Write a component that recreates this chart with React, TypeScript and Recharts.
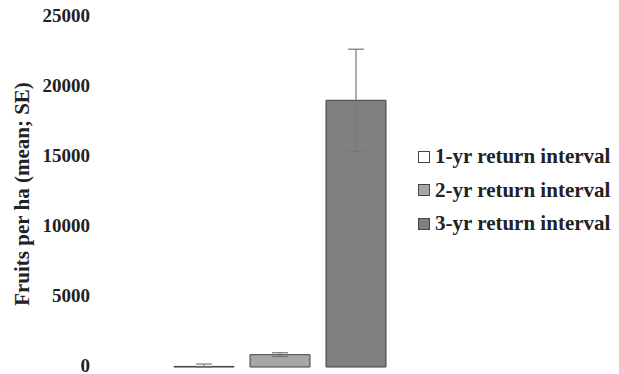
import React from 'react';
import { BarChart, Bar, XAxis, YAxis, ErrorBar } from 'recharts';

const seriesNames = ['1-yr return interval', '2-yr return interval', '3-yr return interval'];
const seriesMeans = [40, 880, 19050];
const seriesErrors = [170, 140, 3650];
const seriesFills = ['#ffffff', '#a6a6a6', '#808080'];
const yTicks = [0, 5000, 10000, 15000, 20000, 25000];

const FONT = '"Liberation Serif", "Times New Roman", serif';

// error whiskers are cut at zero, as in the original figure
const row: Record<string, any> = { group: 'all' };
seriesMeans.forEach((m, i) => {
  row[`s${i}`] = m;
  row[`e${i}`] = [Math.min(seriesErrors[i], m), seriesErrors[i]];
});
const data = [row];

const YLabel = (props: any) => {
  const { viewBox } = props;
  const cx = 22;
  const cy = viewBox.y + viewBox.height / 2 + 2;
  return (
    <text
      x={cx}
      y={cy}
      transform={`rotate(-90, ${cx}, ${cy})`}
      textAnchor="middle"
      dominantBaseline="central"
      fontFamily={FONT}
      fontWeight="bold"
      fontSize={21}
      fill="#222"
    >
      Fruits per ha (mean; SE)
    </text>
  );
};

const YTick = (props: any) => {
  const { x, y, payload } = props;
  return (
    <text
      x={x}
      y={y - 2}
      textAnchor="end"
      dominantBaseline="central"
      fontFamily={FONT}
      fontWeight="bold"
      fontSize={19}
      fill="#222"
    >
      {payload.value}
    </text>
  );
};

const LegendBox = () => (
  <div
    style={{
      position: 'absolute',
      left: 418,
      top: 140,
      width: 201,
      fontFamily: FONT,
      fontWeight: 'bold',
      fontSize: 21,
      color: '#222',
    }}
  >
    {seriesNames.map((name, i) => (
      <div key={name} style={{ display: 'flex', alignItems: 'center', height: 33.5 }}>
        <span
          style={{
            display: 'inline-block',
            width: 10,
            height: 10,
            background: seriesFills[i],
            border: '1px solid #444',
            marginRight: 5,
          }}
        />
        <span style={{ whiteSpace: 'nowrap' }}>{name}</span>
      </div>
    ))}
  </div>
);

export default function App() {
  return (
    <div style={{ position: 'absolute', left: 0, top: 0, width: 619, height: 374, background: '#fff' }}>
      <BarChart
        width={619}
        height={374}
        data={data}
        margin={{ top: 17, right: 159, bottom: 7, left: 0 }}
        barGap={16}
        barSize={60}
      >
        <XAxis dataKey="group" hide />
        <YAxis
          width={100}
          domain={[0, 25000]}
          ticks={yTicks}
          interval={0}
          axisLine={false}
          tickLine={false}
          tickSize={0}
          tickMargin={10}
          tick={<YTick />}
          label={<YLabel />}
        />
        {seriesNames.map((name, i) => (
          <Bar
            key={name}
            dataKey={`s${i}`}
            name={name}
            fill={seriesFills[i]}
            stroke="#404040"
            strokeWidth={1}
            isAnimationActive={false}
          >
            <ErrorBar dataKey={`e${i}`} width={8} stroke="#777" strokeWidth={1.2} direction="y" />
          </Bar>
        ))}
      </BarChart>
      <LegendBox />
    </div>
  );
}
